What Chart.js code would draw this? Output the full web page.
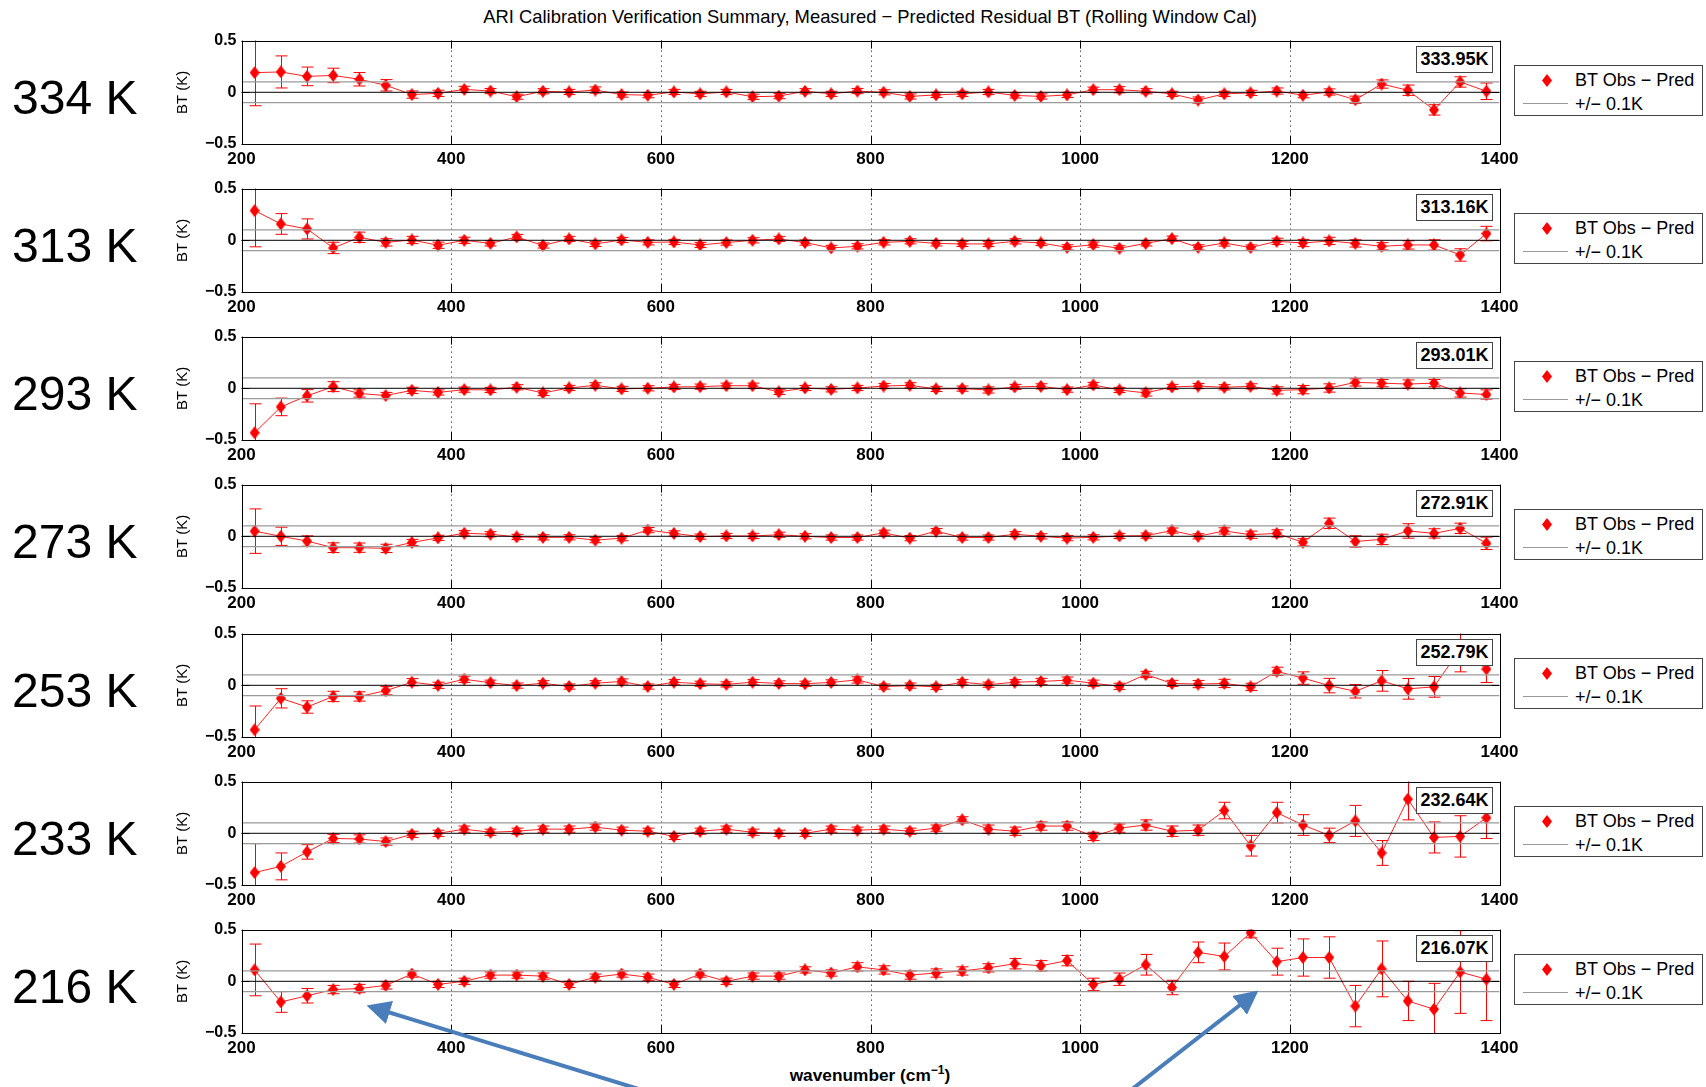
<!DOCTYPE html>
<html>
<head>
<meta charset="utf-8">
<script src="https://cdn.jsdelivr.net/npm/chart.js@4.4.1/dist/chart.umd.min.js"></script>
<style>
html,body{margin:0;padding:0;background:#fff;}
body{width:1706px;height:1087px;position:relative;overflow:hidden;font-family:"Liberation Sans",Arial,Helvetica,sans-serif;color:#000;}
canvas{position:absolute;left:0;}
.tlabel{position:absolute;left:12px;font-size:48px;line-height:48px;white-space:nowrap;}
.legend{position:absolute;left:1514px;width:189px;height:51px;border:1px solid #444;background:#fff;box-sizing:border-box;}
.legend .dm{position:absolute;left:27px;top:8px;width:10px;height:13px;}
.legend .ln{position:absolute;left:8px;top:37px;width:45px;height:0;border-top:1px solid #999;}
.legend .t1{position:absolute;left:60px;top:4px;font-size:18px;line-height:20px;white-space:nowrap;}
.legend .t2{position:absolute;left:60px;top:28px;font-size:18px;line-height:20px;white-space:nowrap;}
.annot{position:absolute;left:1416px;width:77px;height:27px;border:1px solid #444;background:#fff;box-sizing:border-box;font-weight:bold;font-size:18px;line-height:25px;text-align:center;white-space:nowrap;}
#title{position:absolute;top:6px;left:0;width:1740px;text-align:center;font-size:18.4px;white-space:nowrap;}
#xtitle{position:absolute;top:1063px;left:0;width:1740px;text-align:center;font-size:17.3px;font-weight:bold;white-space:nowrap;}
#arrows{position:absolute;left:0;top:0;}
</style>
</head>
<body>
<div id="title">ARI Calibration Verification Summary, Measured − Predicted Residual BT (Rolling Window Cal)</div>
<div id="xtitle">wavenumber (cm<sup style="font-size:12px">−1</sup>)</div>
<script>
// ---------------- data ----------------
const wavenumbers = [212.5,237.5,262.5,287.5,312.5,337.5,362.5,387.5,412.5,437.5,462.5,487.5,512.5,537.5,562.5,587.5,612.5,637.5,662.5,687.5,712.5,737.5,762.5,787.5,812.5,837.5,862.5,887.5,912.5,937.5,962.5,987.5,1012.5,1037.5,1062.5,1087.5,1112.5,1137.5,1162.5,1187.5,1212.5,1237.5,1262.5,1287.5,1312.5,1337.5,1362.5,1387.5];

const panelLabels = ['334 K','313 K','293 K','273 K','253 K','233 K','216 K'];
const meanTemps = ['333.95K','313.16K','293.01K','272.91K','252.79K','232.64K','216.07K'];
const xTickValues = [200,400,600,800,1000,1200,1400];
const yTickValues = [-0.5,0,0.5];
const bandLevels = [0.1,-0.1];
const legendLabels = ['BT Obs − Pred','+/− 0.1K'];

const resid334 = [0.19,0.197,0.154,0.163,0.126,0.068,-0.022,-0.01,0.028,0.012,-0.043,0.01,0.003,0.022,-0.022,-0.028,0.003,-0.015,0.003,-0.043,-0.037,0.01,-0.015,0.012,
  0.0,-0.04,-0.025,-0.015,0.003,-0.03,-0.04,-0.025,0.025,0.025,0.01,-0.015,-0.075,-0.015,-0.006,0.012,-0.028,0.003,-0.072,0.08,0.02,-0.17,0.1,0.01];
const err334 = [0.32,0.155,0.09,0.07,0.065,0.055,0.035,0.03,0.03,0.025,0.025,0.025,0.025,0.03,0.025,0.025,0.025,0.025,0.025,0.025,0.025,0.025,0.025,0.025,
  0.025,0.025,0.025,0.025,0.025,0.025,0.025,0.025,0.025,0.03,0.025,0.025,0.03,0.025,0.025,0.03,0.025,0.03,0.035,0.04,0.05,0.05,0.05,0.08];

const resid313 = [0.287,0.158,0.11,-0.074,0.029,-0.02,0.003,-0.048,0.0,-0.03,0.032,-0.05,0.013,-0.035,0.003,-0.02,-0.016,-0.045,-0.022,0.0,0.013,-0.022,-0.074,-0.058,
  -0.02,-0.01,-0.03,-0.035,-0.035,-0.01,-0.026,-0.068,-0.042,-0.077,-0.03,0.016,-0.068,-0.026,-0.07,-0.01,-0.026,-0.006,-0.03,-0.058,-0.045,-0.045,-0.142,0.065];
const err313 = [0.35,0.1,0.097,0.055,0.05,0.035,0.035,0.03,0.03,0.025,0.025,0.025,0.025,0.025,0.025,0.025,0.025,0.025,0.025,0.025,0.025,0.025,0.025,0.025,
  0.025,0.025,0.025,0.025,0.025,0.025,0.025,0.025,0.025,0.025,0.025,0.025,0.025,0.03,0.025,0.03,0.035,0.035,0.035,0.035,0.04,0.05,0.06,0.07];

const resid293 = [-0.43,-0.18,-0.073,0.016,-0.05,-0.07,-0.02,-0.04,-0.013,-0.016,0.01,-0.045,0.003,0.029,-0.006,0.0,0.013,0.016,0.025,0.025,-0.035,0.003,-0.01,0.003,
  0.022,0.029,-0.006,-0.003,-0.016,0.013,0.019,-0.013,0.032,-0.016,-0.045,0.013,0.022,0.01,0.019,-0.02,-0.013,0.003,0.057,0.05,0.041,0.05,-0.045,-0.06];
const err293 = [0.28,0.085,0.06,0.048,0.035,0.03,0.03,0.025,0.025,0.025,0.025,0.025,0.025,0.025,0.025,0.025,0.025,0.025,0.025,0.025,0.025,0.025,0.025,0.025,
  0.025,0.025,0.025,0.025,0.03,0.025,0.025,0.025,0.025,0.025,0.03,0.025,0.025,0.025,0.025,0.035,0.04,0.04,0.035,0.035,0.04,0.035,0.04,0.045];

const resid273 = [0.05,0.0,-0.046,-0.11,-0.11,-0.117,-0.06,-0.015,0.03,0.02,-0.006,-0.01,-0.01,-0.037,-0.018,0.06,0.028,-0.003,0.003,0.003,0.015,0.0,-0.012,-0.012,
  0.034,-0.018,0.05,-0.012,-0.012,0.02,0.0,-0.018,-0.01,0.003,0.006,0.055,0.0,0.052,0.015,0.028,-0.058,0.126,-0.05,-0.03,0.052,0.028,0.077,-0.068];
const err273 = [0.215,0.088,0.05,0.047,0.045,0.04,0.03,0.025,0.025,0.025,0.025,0.025,0.025,0.025,0.025,0.025,0.025,0.025,0.025,0.025,0.025,0.025,0.025,0.025,
  0.025,0.025,0.025,0.025,0.025,0.025,0.025,0.025,0.025,0.025,0.025,0.025,0.025,0.03,0.035,0.035,0.035,0.05,0.055,0.05,0.07,0.045,0.05,0.06];

const resid253 = [-0.43,-0.126,-0.21,-0.108,-0.108,-0.052,0.03,0.0,0.058,0.025,-0.003,0.02,-0.012,0.02,0.037,-0.012,0.03,0.015,0.009,0.03,0.018,0.015,0.028,0.052,
  -0.012,-0.003,-0.015,0.03,0.006,0.03,0.037,0.05,0.02,-0.01,0.105,0.018,0.012,0.018,-0.015,0.135,0.07,-0.003,-0.058,0.043,-0.034,-0.015,0.35,0.157];
const err253 = [0.23,0.093,0.06,0.05,0.045,0.04,0.035,0.03,0.03,0.025,0.025,0.025,0.025,0.025,0.025,0.025,0.025,0.025,0.025,0.025,0.025,0.025,0.025,0.03,
  0.025,0.025,0.025,0.025,0.025,0.025,0.03,0.03,0.03,0.03,0.03,0.03,0.035,0.04,0.035,0.04,0.06,0.07,0.065,0.1,0.1,0.1,0.22,0.13];

const resid233 = [-0.38,-0.32,-0.18,-0.05,-0.055,-0.08,-0.01,0.0,0.04,0.01,0.02,0.04,0.04,0.06,0.03,0.02,-0.03,0.02,0.04,0.01,0.0,0.0,0.04,0.03,
  0.04,0.02,0.05,0.13,0.04,0.02,0.07,0.07,-0.03,0.05,0.08,0.02,0.03,0.22,-0.12,0.2,0.08,-0.02,0.12,-0.19,0.33,-0.04,-0.03,0.15];
const err233 = [0.28,0.13,0.07,0.04,0.04,0.035,0.03,0.03,0.03,0.03,0.03,0.03,0.03,0.03,0.03,0.03,0.03,0.03,0.03,0.03,0.03,0.03,0.03,0.03,
  0.03,0.03,0.03,0.03,0.04,0.04,0.04,0.04,0.04,0.04,0.05,0.05,0.05,0.08,0.1,0.1,0.1,0.07,0.15,0.12,0.2,0.15,0.2,0.2];

const resid216 = [0.11,-0.2,-0.14,-0.08,-0.07,-0.04,0.07,-0.03,0.0,0.06,0.06,0.05,-0.03,0.04,0.07,0.04,-0.03,0.07,0.0,0.05,0.05,0.11,0.08,0.14,
  0.11,0.06,0.08,0.1,0.13,0.17,0.15,0.2,-0.03,0.02,0.16,-0.06,0.28,0.24,0.47,0.19,0.23,0.23,-0.24,0.12,-0.19,-0.27,0.09,0.02];
const err216 = [0.25,0.1,0.07,0.04,0.04,0.035,0.03,0.03,0.03,0.03,0.03,0.03,0.03,0.03,0.03,0.03,0.03,0.03,0.03,0.03,0.03,0.03,0.03,0.04,
  0.04,0.04,0.04,0.04,0.04,0.05,0.05,0.05,0.06,0.06,0.1,0.07,0.1,0.13,0.05,0.13,0.18,0.2,0.2,0.27,0.19,0.25,0.4,0.4];

const residuals = [resid334,resid313,resid293,resid273,resid253,resid233,resid216];
const errors = [err334,err313,err293,err273,err253,err233,err216];

// ---------------- layout ----------------
const PLOT_LEFT = 241.5, PLOT_RIGHT = 1499.5, PLOT_H = 106;
const PANEL_TOPS = [37.5,185.8,334.1,482.4,630.7,779,927.3];
const PAD_TOP = 12, X_AXIS_H = 30, Y_AXIS_W = 71;
const FONT = '"Liberation Sans", Arial, Helvetica, sans-serif';

function makeDiamond(){
  const c = document.createElement('canvas');
  c.width = 10; c.height = 13;
  const g = c.getContext('2d');
  g.fillStyle = '#ff0000';
  g.beginPath(); g.moveTo(5,0); g.lineTo(10,6.5); g.lineTo(5,13); g.lineTo(0,6.5); g.closePath(); g.fill();
  return c;
}
const diamond = makeDiamond();

const framePlugin = {
  id:'frame',
  beforeDatasetsDraw(chart){
    const {ctx, chartArea:a, scales:{x,y}} = chart;
    ctx.save();
    ctx.strokeStyle = '#000'; ctx.lineWidth = 1; ctx.setLineDash([1,4]);
    xTickValues.forEach(v=>{
      if (v<=200 || v>=1400) return;
      const px = Math.round(x.getPixelForValue(v))+0.5;
      ctx.beginPath(); ctx.moveTo(px,a.top); ctx.lineTo(px,a.bottom); ctx.stroke();
    });
    ctx.setLineDash([]);
    xTickValues.forEach(v=>{
      const px = Math.round(x.getPixelForValue(v))+0.5;
      ctx.beginPath(); ctx.moveTo(px,a.top); ctx.lineTo(px,a.top+8); ctx.moveTo(px,a.bottom); ctx.lineTo(px,a.bottom-8); ctx.stroke();
    });
    yTickValues.forEach(v=>{
      const py = Math.round(y.getPixelForValue(v))+0.5;
      ctx.beginPath(); ctx.moveTo(a.left,py); ctx.lineTo(a.left+8,py); ctx.moveTo(a.right,py); ctx.lineTo(a.right-8,py); ctx.stroke();
    });
    const ds = chart.data.datasets.find(d=>d.errors);
    ctx.beginPath(); ctx.rect(a.left,a.top,a.right-a.left,a.bottom-a.top); ctx.clip();
    ctx.strokeStyle = '#ff0000'; ctx.lineWidth = 1;
    ds.data.forEach((p,i)=>{
      const e = ds.errors[i];
      const px = Math.round(x.getPixelForValue(p.x))+0.5;
      const t = y.getPixelForValue(p.y+e), b = y.getPixelForValue(p.y-e);
      ctx.beginPath();
      ctx.moveTo(px,t); ctx.lineTo(px,b);
      ctx.moveTo(px-6,t); ctx.lineTo(px+6,t);
      ctx.moveTo(px-6,b); ctx.lineTo(px+6,b);
      ctx.stroke();
    });
    ctx.restore();
  },
  afterDatasetsDraw(chart){
    const {ctx, chartArea:a} = chart;
    ctx.save();
    ctx.strokeStyle = '#000'; ctx.lineWidth = 1;
    ctx.strokeRect(Math.round(a.left)+0.5, Math.round(a.top)+0.5, Math.round(a.right-a.left), Math.round(a.bottom-a.top));
    ctx.restore();
  }
};

residuals.forEach((vals,i)=>{
  const top = PANEL_TOPS[i];
  const cv = document.createElement('canvas');
  const h = PAD_TOP + PLOT_H + X_AXIS_H;
  cv.width = 1706; cv.height = h;
  cv.style.top = (top - PAD_TOP) + 'px';
  cv.style.width = '1706px'; cv.style.height = h + 'px';
  document.body.appendChild(cv);

  const pts = wavenumbers.map((w,k)=>({x:w, y:vals[k]}));
  const bandSets = bandLevels.map(l=>({
    data:[{x:200,y:l},{x:1400,y:l}], borderColor:'#9a9a9a', borderWidth:1.3, pointRadius:0, showLine:true
  }));
  new Chart(cv.getContext('2d'), {
    type:'scatter',
    data:{datasets:[
      ...bandSets,
      {data:[{x:200,y:0},{x:1400,y:0}], borderColor:'#000', borderWidth:1, pointRadius:0, showLine:true},
      {data:pts, errors:errors[i], showLine:true, borderColor:'#ff2020', borderWidth:1,
       pointStyle:diamond, pointRadius:6, pointHoverRadius:6, backgroundColor:'#ff0000'}
    ]},
    options:{
      responsive:false, animation:false, devicePixelRatio:1,
      events:[],
      layout:{padding:{left:PLOT_LEFT - Y_AXIS_W, right:1706 - PLOT_RIGHT, top:PAD_TOP, bottom:0}},
      plugins:{legend:{display:false}, tooltip:{enabled:false}},
      scales:{
        x:{type:'linear', min:200, max:1400,
           afterBuildTicks:s=>{s.ticks = xTickValues.map(v=>({value:v}));},
           afterFit:s=>{s.height = X_AXIS_H;},
           grid:{display:false, drawTicks:false}, border:{display:false},
           ticks:{color:'#000', padding:5, maxRotation:0, autoSkip:false, font:{family:FONT, size:17, weight:'bold'}, callback:v=>String(v)}},
        y:{type:'linear', min:-0.5, max:0.5,
           afterBuildTicks:s=>{s.ticks = yTickValues.map(v=>({value:v}));},
           afterFit:s=>{s.width = Y_AXIS_W;},
           grid:{display:false, drawTicks:false}, border:{display:false},
           title:{display:true, text:'BT (K)', color:'#000', padding:{top:3,bottom:3}, font:{family:FONT, size:15}},
           ticks:{color:'#000', padding:5, font:{family:FONT, size:16, weight:'bold'},
                  callback:v=> v===0 ? '0' : (v<0 ? '−' : '') + Math.abs(v)}}
      }
    },
    plugins:[framePlugin]
  });

  const tl = document.createElement('div');
  tl.className = 'tlabel'; tl.textContent = panelLabels[i];
  tl.style.top = (top + 60 - 24) + 'px';
  document.body.appendChild(tl);

  const lg = document.createElement('div');
  lg.className = 'legend'; lg.style.top = (top + 27) + 'px';
  lg.innerHTML = '<canvas class="dm" width="10" height="13"></canvas><div class="t1"></div><div class="ln"></div><div class="t2"></div>';
  lg.querySelector('.t1').textContent = legendLabels[0];
  lg.querySelector('.t2').textContent = legendLabels[1];
  lg.querySelector('.dm').getContext('2d').drawImage(diamond,0,0);
  document.body.appendChild(lg);

  const an = document.createElement('div');
  an.className = 'annot'; an.textContent = meanTemps[i];
  an.style.top = (top + 8) + 'px';
  document.body.appendChild(an);
});

const svgNS = 'http://www.w3.org/2000/svg';
const svg = document.createElementNS(svgNS,'svg');
svg.setAttribute('id','arrows'); svg.setAttribute('width','1706'); svg.setAttribute('height','1087');
svg.innerHTML = '<defs><marker id="ah" markerWidth="6" markerHeight="6" refX="3" refY="3" orient="auto" markerUnits="strokeWidth"><path d="M0,0 L6,3 L0,6 z" fill="#4a7ebb"/></marker></defs>'+
  '<line x1="642" y1="1090" x2="378" y2="1009" stroke="#4a7ebb" stroke-width="4" marker-end="url(#ah)"/>'+
  '<line x1="1131" y1="1090" x2="1249" y2="998" stroke="#4a7ebb" stroke-width="4" marker-end="url(#ah)"/>';
document.body.appendChild(svg);
</script>
</body>
</html>
